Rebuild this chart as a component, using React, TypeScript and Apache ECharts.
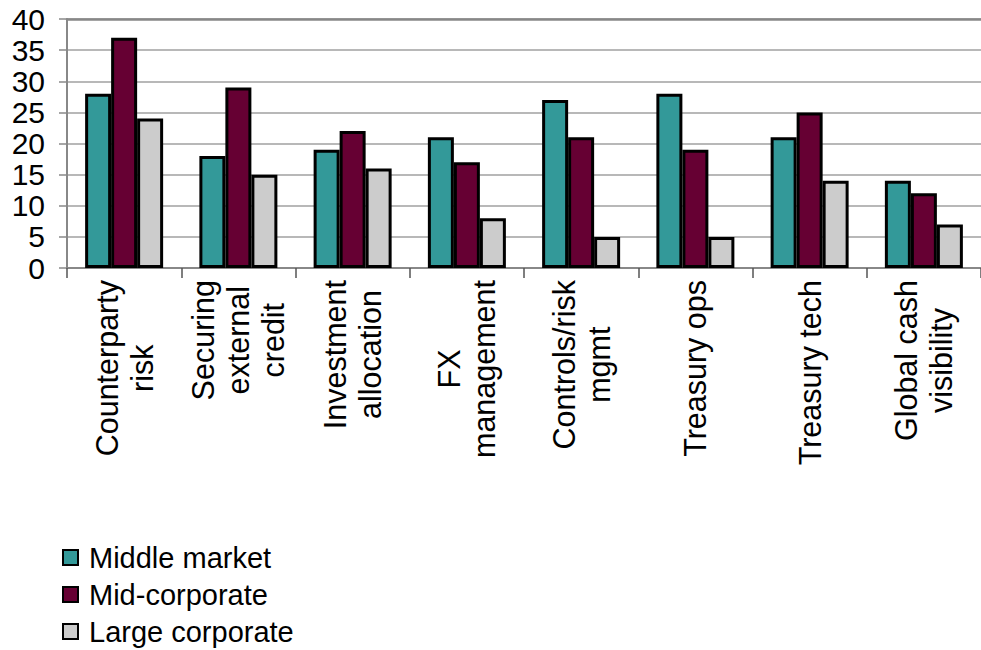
import React, { useEffect, useRef } from "react";
import * as echarts from "echarts";

const categories = [
  "Counterparty\nrisk",
  "Securing\nexternal\ncredit",
  "Investment\nallocation",
  "FX\nmanagement",
  "Controls/risk\nmgmt",
  "Treasury ops",
  "Treasury tech",
  "Global cash\nvisibility",
];
const middleMarket = [28, 18, 19, 21, 27, 28, 21, 14];
const midCorporate = [37, 29, 22, 17, 21, 19, 25, 12];
const largeCorporate = [24, 15, 16, 8, 5, 5, 14, 7];
const seriesNames = ["Middle market", "Mid-corporate", "Large corporate"];
const seriesColors = ["#339999", "#660033", "#cccccc"];

const FONT = "'Liberation Sans', Arial, sans-serif";

export default function App() {
  const ref = useRef<HTMLDivElement>(null);
  useEffect(() => {
    if (!ref.current) return;
    const chart = echarts.init(ref.current, undefined, { renderer: "svg" });
    const datasets = [middleMarket, midCorporate, largeCorporate];
    chart.setOption({
      animation: false,
      backgroundColor: "#ffffff",
      textStyle: { fontFamily: FONT },
      grid: { left: 67, top: 19, bottom: 382, width: 922, containLabel: false },
      legend: {
        type: "plain",
        orient: "vertical",
        left: 57,
        top: 538,
        height: 140,
        itemWidth: 15,
        itemHeight: 15,
        itemGap: 8,
        icon: "rect",
        textStyle: { fontSize: 29, fontFamily: FONT, color: "#000", padding: [0, 0, 0, 6] },
        data: seriesNames,
      },
      xAxis: [
        {
          type: "category",
          data: categories,
          position: "bottom",
          axisLine: { show: true, lineStyle: { color: "#888888", width: 2 } },
          axisTick: { show: true, length: 10, lineStyle: { color: "#555555", width: 1.5 } },
          axisLabel: {
            interval: 0,
            rotate: 90,
            margin: 12,
            hideOverlap: false,
            formatter: (v: string) => v.split("\n").map((l) => `{c|${l}}`).join("\n"),
            rich: {
              c: {
                align: "center",
                fontSize: 30.5,
                lineHeight: 35,
                fontFamily: FONT,
                color: "#000",
              },
            },
          },
          splitLine: { show: false },
        },
        {
          type: "category",
          data: categories,
          position: "top",
          axisLine: { show: true, lineStyle: { color: "#888888", width: 2.5 } },
          axisTick: { show: false },
          axisLabel: { show: false },
        },
      ],
      yAxis: {
        type: "value",
        min: 0,
        max: 40,
        interval: 5,
        axisLine: { show: true, lineStyle: { color: "#888888", width: 2 } },
        axisTick: { show: true, length: 8, lineStyle: { color: "#888888", width: 1.5 } },
        axisLabel: { fontSize: 30, color: "#000", fontFamily: FONT, margin: 22 },
        splitLine: { show: true, lineStyle: { color: "#a0a0a0", width: 1.5 } },
      },
      series: datasets.map((d, i) => ({
        name: seriesNames[i],
        type: "bar",
        data: d,
        barWidth: 26,
        barGap: "0%",
        itemStyle: { color: seriesColors[i], borderColor: "#000", borderWidth: 3 },
      })),
    });
    return () => chart.dispose();
  }, []);
  return (
    <div
      ref={ref}
      style={{ position: "fixed", left: 0, top: 0, width: 981, height: 650 }}
    />
  );
}
